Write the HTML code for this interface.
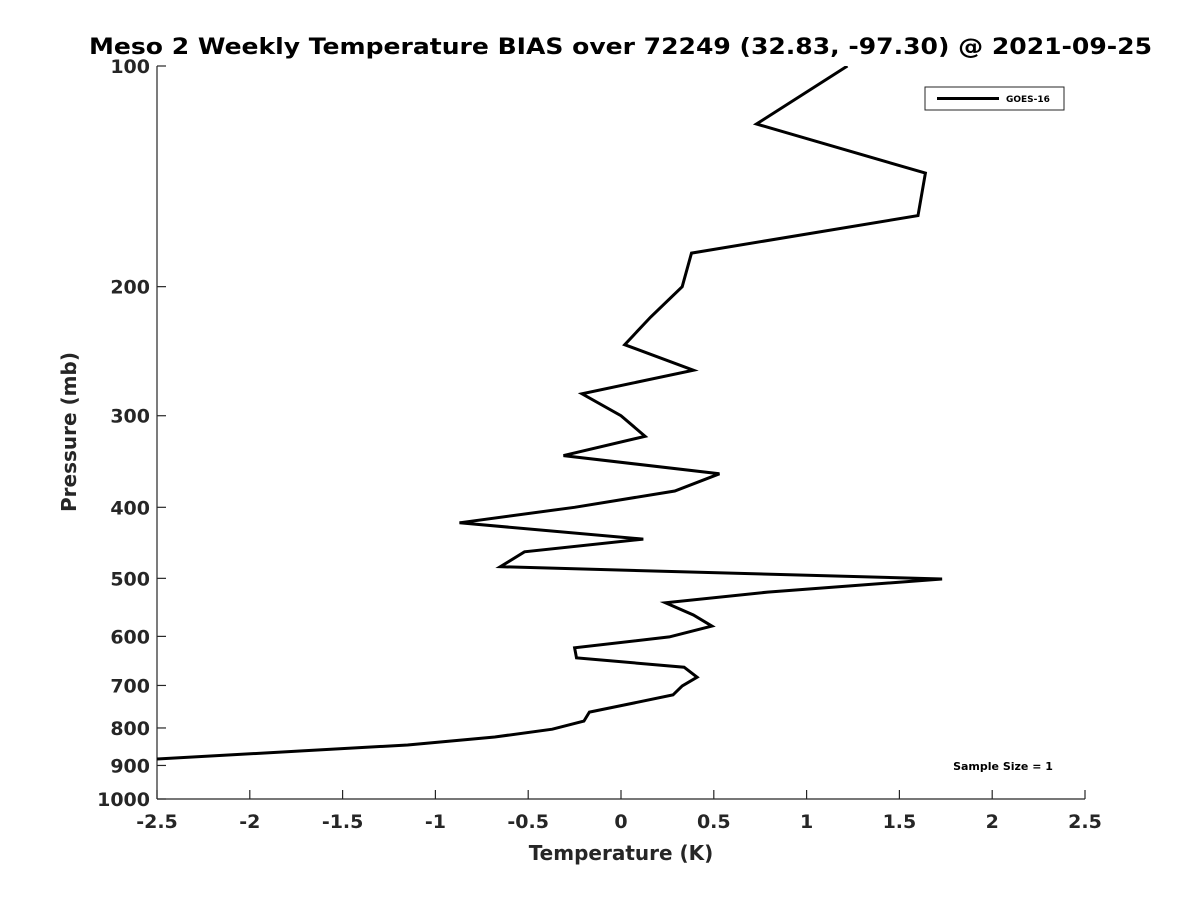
<!DOCTYPE html>
<html><head><meta charset="utf-8"><style>
body{margin:0;background:#fff}
svg text{font-family:"DejaVu Sans","Liberation Sans",sans-serif;font-weight:bold;fill:#262626}
</style></head><body>
<svg id="chart" width="1200" height="900" xmlns="http://www.w3.org/2000/svg">
<rect width="1200" height="900" fill="#fff"/>
<text x="89" y="54" textLength="1063" lengthAdjust="spacingAndGlyphs" font-size="22" style="fill:#000">Meso 2 Weekly Temperature BIAS over 72249 (32.83, -97.30) @ 2021-09-25</text>
<g id="axes"></g>
<defs><clipPath id="clip"><rect x="157" y="66" width="928" height="733"/></clipPath></defs>
<g id="series" clip-path="url(#clip)"></g>
<text x="621" y="860" text-anchor="middle" font-size="20">Temperature (K)</text>
<text transform="translate(76,432) rotate(-90)" text-anchor="middle" font-size="20">Pressure (mb)</text>
<g>
<rect x="925" y="87" width="139" height="23" fill="#fff" stroke="#262626" stroke-width="1"/>
<line x1="937" y1="98.5" x2="999" y2="98.5" stroke="#000" stroke-width="3"/>
<text x="1006" y="102" font-size="9" style="fill:#000">GOES-16</text>
</g>
<text x="1003" y="770" text-anchor="middle" font-size="11" style="fill:#000">Sample Size = 1</text>
</svg>
<script>
const pressures=[100,120,140,160,180,200,220,240,260,280,300,320,340,360,380,400,420,442,460,482,501,522,540,561,581,601,622,642,661,682,701,721,744,761,783,803,823,844,860,882];
const biasGOES16=[1.22,0.73,1.64,1.60,0.38,0.33,0.16,0.02,0.39,-0.21,0.0,0.13,-0.31,0.53,0.29,-0.25,-0.87,0.12,-0.52,-0.65,1.73,0.79,0.24,0.39,0.49,0.26,-0.25,-0.24,0.34,0.41,0.33,0.28,0.02,-0.17,-0.2,-0.37,-0.68,-1.15,-1.73,-2.5];
const xTicks=[-2.5,-2,-1.5,-1,-0.5,0,0.5,1,1.5,2,2.5];
const yTicks=[100,200,300,400,500,600,700,800,900,1000];
const X0=157,X1=1085,Y0=66,Y1=799;
function xs(v){return X0+(v+2.5)/5*(X1-X0);}
function ys(p){return Y0+(Math.log10(p)-2)*(Y1-Y0);}
const NS="http://www.w3.org/2000/svg";
const axes=document.getElementById('axes');
function mk(t,a,parent){const e=document.createElementNS(NS,t);for(const k in a)e.setAttribute(k,a[k]);parent.appendChild(e);return e;}
const xa=mk('line',{x1:X0,y1:Y1,x2:X1,y2:Y1,stroke:'#262626','stroke-width':1.2},axes);


const ya=mk('line',{x1:X0,y1:Y0,x2:X0,y2:Y1,stroke:'#262626','stroke-width':1.2},axes);


xTicks.forEach(v=>{
 const x=xs(v);
 mk('line',{x1:x,y1:Y1,x2:x,y2:Y1-9,stroke:'#262626','stroke-width':1.2},axes);
 const t=mk('text',{x:x,y:Y1+29,'text-anchor':'middle','font-size':19},axes);
 t.textContent=String(v);
 
 
});
yTicks.forEach(p=>{
 const y=ys(p);
 mk('line',{x1:X0,y1:y,x2:X0+9,y2:y,stroke:'#262626','stroke-width':1.2},axes);
 const t=mk('text',{x:X0-7,y:y+7,'text-anchor':'end','font-size':19},axes);
 t.textContent=String(p);
 
 
});
const pts=pressures.map((p,i)=>xs(biasGOES16[i]).toFixed(1)+','+ys(p).toFixed(1)).join(' ');
const line=mk('polyline',{points:pts,fill:'none',stroke:'#000','stroke-width':3,'stroke-linejoin':'miter'},document.getElementById('series'));


</script>
</body></html>
